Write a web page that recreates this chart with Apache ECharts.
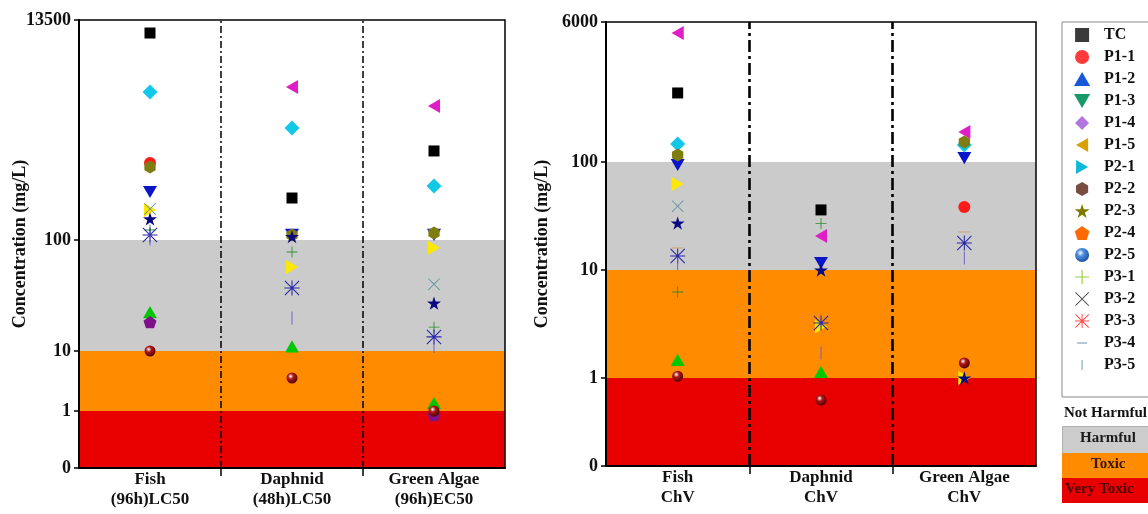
<!DOCTYPE html>
<html>
<head>
<meta charset="utf-8">
<script src="https://cdn.jsdelivr.net/npm/echarts@6/dist/echarts.min.js"></script>
<style>
  html, body { margin: 0; padding: 0; background: #fff; }
  #chart { width: 1148px; height: 514px; }
</style>
</head>
<body>
<div id="chart"></div>
<script>
// categories
const acuteCats = ['Fish\n(96h)LC50', 'Daphnid\n(48h)LC50', 'Green Algae\n(96h)EC50'];
const chronicCats = ['Fish\nChV', 'Daphnid\nChV', 'Green Algae\nChV'];

// tick labels of the two broken axes (mg/L)
const acuteTicks = [0, 1, 10, 100, 13500];
const chronicTicks = [0, 1, 10, 100, 6000];
// class limits: very toxic < 1 < toxic < 10 < harmful < 100 < not harmful
const classLimits = [1, 10, 100];

// values, order: Fish, Daphnid, Green Algae (null = not visible)
const acuteTC   = [10100, 255, 728];
const acuteP1_1 = [557, null, null];
const acuteP1_2 = [22.4, 11, 1.36];
const acuteP1_3 = [292, 112, 112];
const acuteP1_4 = [2710, 1215, 333];
const acuteP1_5 = [null, 3030, 1985];
const acuteP2_1 = [195, 57, 85];
const acuteP2_2 = [509, 112, 117];
const acuteP2_3 = [160, 108, 27];
const acuteP2_4 = [18.2, null, 0.93];
const acuteP2_5 = [10, 3.55, 1.0];
const acuteP3_1 = [125, 78, 16.4];
const acuteP3_2 = [200, null, 40];
const acuteP3_3 = [112, 37, 13.4];
const acuteP3_4 = [null, null, null];
const acuteP3_5 = [102, 19.8, 11];

const chronicTC   = [753, 36, null];
const chronicP1_1 = [null, null, 38.3];
const chronicP1_2 = [1.47, 1.14, null];
const chronicP1_3 = [93.8, 11.6, 112];
const chronicP1_4 = [169, null, 164];
const chronicP1_5 = [4360, 20.7, 240];
const chronicP2_1 = [62.5, 3.0, 1.0];
const chronicP2_2 = [123, null, 180];
const chronicP2_3 = [27.2, 10, 1.0];
const chronicP2_4 = [null, null, null];
const chronicP2_5 = [1.04, 0.75, 1.38];
const chronicP3_1 = [6.26, 27, null];
const chronicP3_2 = [39, 3.23, null];
const chronicP3_3 = [13.5, 3.23, 17.8];
const chronicP3_4 = [16, null, 22.5];
const chronicP3_5 = [11.5, 1.7, 12.9];

const names = ['TC', 'P1-1', 'P1-2', 'P1-3', 'P1-4', 'P1-5', 'P2-1', 'P2-2', 'P2-3', 'P2-4', 'P2-5', 'P3-1', 'P3-2', 'P3-3', 'P3-4', 'P3-5'];
const acuteAll = [acuteTC, acuteP1_1, acuteP1_2, acuteP1_3, acuteP1_4, acuteP1_5, acuteP2_1, acuteP2_2,
  acuteP2_3, acuteP2_4, acuteP2_5, acuteP3_1, acuteP3_2, acuteP3_3, acuteP3_4, acuteP3_5];
const chronicAll = [chronicTC, chronicP1_1, chronicP1_2, chronicP1_3, chronicP1_4, chronicP1_5, chronicP2_1, chronicP2_2,
  chronicP2_3, chronicP2_4, chronicP2_5, chronicP3_1, chronicP3_2, chronicP3_3, chronicP3_4, chronicP3_5];

// broken axis: where each tick sits (px from the bottom of the plot)
const acuteTickPx = [0, 57, 117, 228, 448];
const chronicTickPx = [0, 88, 196, 304, 444];

function makeScale(ticks, px) {
  return function (v) {
    let i = 1;
    while (i < ticks.length - 1 && v > ticks[i]) i++;
    const a = ticks[i - 1], b = ticks[i];
    const f = i === 1 ? (v - a) / (b - a) : Math.log10(v / a) / Math.log10(b / a);
    return px[i - 1] + f * (px[i] - px[i - 1]);
  };
}
const acuteScale = makeScale(acuteTicks, acuteTickPx);
const chronicScale = makeScale(chronicTicks, chronicTickPx);

const serif = '"Liberation Serif", "Times New Roman", serif';

// marker shapes
const SQ = 'path://M0,0H20V20H0Z';
const UP = 'path://M10,0L20,17.3H0Z';
const DOWN = 'path://M0,0H20L10,17.3Z';
const LEFT = 'path://M0,10L17.3,0V20Z';
const RIGHT = 'path://M0,0L17.3,10L0,20Z';
const DIAM = 'path://M10,0L20,10L10,20L0,10Z';
const HEX = 'path://M10,0L18.66,5V15L10,20L1.34,15V5Z';
const PENT = 'path://M10,0L19.51,6.91L15.88,18.09H4.12L0.49,6.91Z';
const STAR = 'path://M10,0L12.245,6.91L19.511,6.91L13.633,11.18L15.878,18.09L10,13.82L4.122,18.09L6.367,11.18L0.489,6.91L7.755,6.91Z';
const PLUS = 'path://M9.2,0H10.8V9.2H20V10.8H10.8V20H9.2V10.8H0V9.2H9.2Z';
const CROSS = 'path://M1,0L10,9L19,0L20,1L11,10L20,19L19,20L10,11L1,20L0,19L9,10L0,1Z';
const AST = 'path://M9.3,0H10.7V20H9.3Z M0,9.3H20V10.7H0Z M1,0L20,19L19,20L0,1Z M19,0L20,1L1,20L0,19Z';
const DASH = 'path://M0,9.3H20V10.7H0Z';
const VLINE = 'path://M9.3,0H10.7V20H9.3Z';
// legend versions of the thin marks, framed in a square box so they stay short
const DASH_ICON = 'path://M0,0L0.01,0L0,0.01Z M3,9.2H17V10.8H3Z M20,20L19.99,20L20,19.99Z';
const VLINE_ICON = 'path://M0,0L0.01,0L0,0.01Z M9.2,3H10.8V17H9.2Z M20,20L19.99,20L20,19.99Z';

function sphere(light, mid, dark) {
  return {
    type: 'radial', x: 0.38, y: 0.35, r: 0.7,
    colorStops: [{ offset: 0, color: light }, { offset: 0.35, color: mid }, { offset: 1, color: dark }]
  };
}

// plotted style and (differently coloured) legend style of each sample
const styles = [
  { symbol: SQ, size: 11, color: '#000000', legend: '#3a3a3a' },
  { symbol: 'circle', size: 12, color: '#ff1a1a', legend: '#ff3b3b' },
  { symbol: UP, size: 14, color: '#00c800', legend: '#1858d8' },
  { symbol: DOWN, size: 14, color: '#0a14c8', legend: '#17996a' },
  { symbol: DIAM, size: 15, color: '#12c8e8', legend: '#b275e0' },
  { symbol: LEFT, size: 14, color: '#e01ec8', legend: '#d8a000' },
  { symbol: RIGHT, size: 14, color: '#ffe800', legend: '#10b8d8' },
  { symbol: HEX, size: 13, color: '#7f7d10', legend: '#7a4c40' },
  { symbol: STAR, size: 14, color: '#0a0a80', legend: '#7d7a00' },
  { symbol: PENT, size: 13, color: '#80108a', legend: '#ff6a00' },
  { symbol: 'circle', size: 11, color: sphere('#ffffff', '#b01818', '#4a0000'), legend: sphere('#ffffff', '#4d8fe0', '#1a4a9a') },
  { symbol: PLUS, size: 11, color: '#2f8f2f', legend: '#9ccc3a' },
  { symbol: CROSS, size: 12, color: '#5f95a0', legend: '#555555' },
  { symbol: AST, size: 15, color: '#2828a8', legend: '#ff4a4a' },
  { symbol: DASH, size: 12, color: '#c89a6a', legend: '#6a90b0', icon: DASH_ICON },
  { symbol: VLINE, size: 13, color: '#7058c8', legend: '#8aa4ba', icon: VLINE_ICON }
];

function points(values, scale) {
  const out = [];
  values.forEach((v, i) => { if (v !== null) out.push([i + 0.5, scale(v)]); });
  return out;
}

function bandSeries(idx, scale) {
  return {
    type: 'scatter', xAxisIndex: idx, yAxisIndex: idx, data: [], silent: true, z: 1,
    markArea: {
      silent: true,
      data: [
        [{ xAxis: 0, yAxis: scale(classLimits[1]), itemStyle: { color: '#cbcbcb' } }, { xAxis: 3, yAxis: scale(classLimits[2]) }],
        [{ xAxis: 0, yAxis: scale(classLimits[0]), itemStyle: { color: '#ff8c00' } }, { xAxis: 3, yAxis: scale(classLimits[1]) }],
        [{ xAxis: 0, yAxis: 0, itemStyle: { color: '#e80000' } }, { xAxis: 3, yAxis: scale(classLimits[0]) }]
      ]
    }
  };
}

function dividerSeries(idx, width, dash) {
  return {
    type: 'scatter', xAxisIndex: idx, yAxisIndex: idx, data: [], silent: true, z: 2,
    markLine: {
      silent: true, symbol: ['none', 'none'], label: { show: false },
      lineStyle: { color: '#000', width: width, type: dash },
      data: [{ xAxis: 1 }, { xAxis: 2 }]
    }
  };
}

const series = [
  bandSeries(0, acuteScale), bandSeries(1, chronicScale),
  dividerSeries(0, 1.5, [7, 3, 2, 3]), dividerSeries(1, 2.6, [12, 4, 3, 4])
];
names.forEach((n, k) => {
  const st = styles[k];
  [[acuteAll[k], acuteScale, 0], [chronicAll[k], chronicScale, 1]].forEach(([vals, sc, idx]) => {
    series.push({
      name: n, type: 'scatter', xAxisIndex: idx, yAxisIndex: idx, z: 3,
      symbol: st.symbol, symbolSize: st.size, symbolKeepAspect: true,
      itemStyle: { color: st.color, opacity: 1 },
      data: points(vals, sc)
    });
  });
});

function xAxis(idx, cats) {
  return {
    gridIndex: idx, type: 'value', min: 0, max: 3, z: 10,
    axisLine: { lineStyle: { color: '#000', width: 2 } },
    axisTick: { customValues: [1, 2], length: 8, lineStyle: { color: '#000', width: 1.5 } },
    axisLabel: {
      customValues: [0.5, 1.5, 2.5], margin: 2,
      formatter: v => cats[Math.round(v - 0.5)],
      fontFamily: serif, fontWeight: 'bold', fontSize: 17, lineHeight: 20, color: '#111'
    },
    splitLine: { show: false }
  };
}

function yAxis(idx, ticks, scale, gap) {
  const pos = ticks.map(scale);
  return {
    gridIndex: idx, type: 'value', min: 0, max: pos[pos.length - 1], z: 10,
    name: 'Concentration (mg/L)', nameLocation: 'middle', nameGap: gap, nameMoveOverlap: false,
    nameTextStyle: { fontFamily: serif, fontWeight: 'bold', fontSize: 18, color: '#111' },
    axisLine: { lineStyle: { color: '#000', width: 2 } },
    axisTick: { customValues: pos, length: 5, lineStyle: { color: '#000', width: 1.5 } },
    axisLabel: {
      customValues: pos, margin: 8,
      formatter: v => {
        const k = pos.findIndex(p => Math.abs(p - v) < 0.01);
        return k >= 0 ? String(ticks[k]) : '';
      },
      fontFamily: serif, fontWeight: 'bold', fontSize: 18, color: '#111'
    },
    splitLine: { show: false }
  };
}

const lbl = { fontFamily: serif, fontWeight: 'bold', fontSize: 15 };

const option = {
  backgroundColor: '#fff',
  animation: false,
  grid: [
    { left: 79, top: 20, width: 426, height: 448, show: true, z: 10, backgroundColor: 'transparent', borderColor: '#000', borderWidth: 1.5 },
    { left: 606, top: 22, width: 430, height: 444, show: true, z: 10, backgroundColor: 'transparent', borderColor: '#000', borderWidth: 1.5 }
  ],
  xAxis: [xAxis(0, acuteCats), xAxis(1, chronicCats)],
  yAxis: [yAxis(0, acuteTicks, acuteScale, 50), yAxis(1, chronicTicks, chronicScale, 55)],
  legend: {
    orient: 'vertical', left: 1062, top: 22,
    padding: [5, 60, 24, 12], itemGap: 6, itemWidth: 34, itemHeight: 14,
    borderColor: '#888', borderWidth: 1,
    textStyle: { fontFamily: serif, fontWeight: 'bold', fontSize: 16, color: '#111' },
    selectedMode: false,
    data: names.map((n, k) => ({ name: n, icon: styles[k].icon || styles[k].symbol, itemStyle: { color: styles[k].legend } }))
  },
  graphic: [
    { type: 'text', left: 1064, top: 406, style: Object.assign({ text: 'Not Harmful', fill: '#111' }, lbl) },
    { type: 'rect', left: 1062, top: 426, shape: { width: 100, height: 27 }, style: { fill: '#cccccc', stroke: '#b0b0b0' } },
    { type: 'text', left: 1080, top: 431, style: Object.assign({ text: 'Harmful', fill: '#1a1a1a' }, lbl) },
    { type: 'rect', left: 1062, top: 453, shape: { width: 100, height: 25 }, style: { fill: '#ff8c00' } },
    { type: 'text', left: 1091, top: 457, style: Object.assign({ text: 'Toxic', fill: '#3a1500' }, lbl) },
    { type: 'rect', left: 1062, top: 478, shape: { width: 100, height: 25 }, style: { fill: '#e80000' } },
    { type: 'text', left: 1065, top: 482, style: Object.assign({ text: 'Very Toxic', fill: '#4a0000' }, lbl) }
  ],
  series: series
};

const chart = echarts.init(document.getElementById('chart'));
chart.setOption(option);
</script>
</body>
</html>
